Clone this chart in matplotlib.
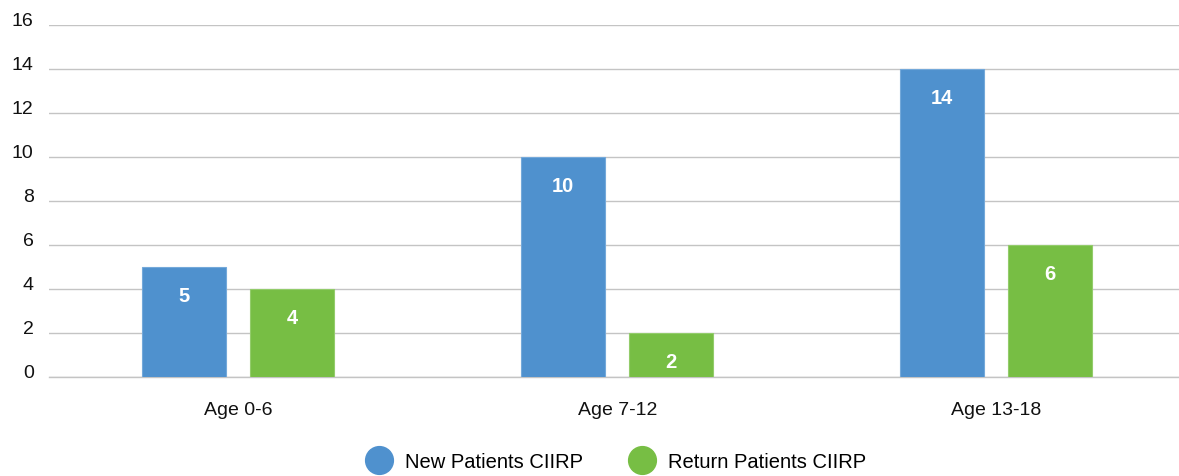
import matplotlib
matplotlib.use("Agg")
import matplotlib.pyplot as plt
from matplotlib.lines import Line2D
import numpy as np

categories = ["Age 0-6", "Age 7-12", "Age 13-18"]
new_patients = [5, 10, 14]
return_patients = [4, 2, 6]
series_labels = ["New Patients CIIRP", "Return Patients CIIRP"]
yticks = [0, 2, 4, 6, 8, 10, 12, 14, 16]

BLUE = "#4F91CE"
GREEN = "#77BE44"

plt.rcParams["font.family"] = ["Liberation Sans", "DejaVu Sans"]

W, H = 1179, 477
fig = plt.figure(figsize=(W / 100, H / 100), dpi=100)
# axes spans category bands of ~379 px; right edge runs past the image
ax = fig.add_axes([49 / W, 99.3 / H, 1136.5 / W, 351.7 / H])

x = np.arange(len(categories))
bw = 0.222
off = 0.1425
b1 = ax.bar(x - off, new_patients, bw, color=BLUE, edgecolor="#74A9DA", lw=0.8, zorder=3)
b2 = ax.bar(x + off, return_patients, bw, color=GREEN, edgecolor="#93CC6B", lw=0.8, zorder=3)

for bars in (b1, b2):
    for b in bars:
        ax.annotate(f"{b.get_height():g}", (b.get_x() + b.get_width() / 2, b.get_height()),
                    xytext=(0, -20.5), textcoords="offset points", ha="center", va="center",
                    color="white", fontsize=14.5, fontweight="bold", zorder=4)

ax.set_xlim(-0.5, 2.5)
ax.set_ylim(0, 16)
ax.set_yticks(yticks)
ax.set_xticks(x)
ax.set_xticklabels(categories)
ax.yaxis.grid(True, color="#C4C4C4", lw=1.0, zorder=0)
ax.axhline(0, color="#C4C4C4", lw=1.0, clip_on=False, zorder=1)
ax.set_axisbelow(True)
for s in ax.spines.values():
    s.set_visible(False)
ax.tick_params(axis="y", length=0, pad=11, labelsize=14, colors="#111111")
ax.tick_params(axis="x", length=0, pad=17.5, labelsize=14, colors="#111111")
for t in ax.get_yticklabels():
    t.set_va("baseline")

handles = [Line2D([], [], ls="none", marker="o", ms=20, color=c, mec=c) for c in (BLUE, GREEN)]
fig.legend(handles, series_labels, loc="center", bbox_to_anchor=(615.5 / W, 14 / H),
           ncol=2, frameon=False, fontsize=14.5, handletextpad=0.6, columnspacing=2.2,
           handlelength=1.4)

fig.savefig("out.png", dpi=100)
